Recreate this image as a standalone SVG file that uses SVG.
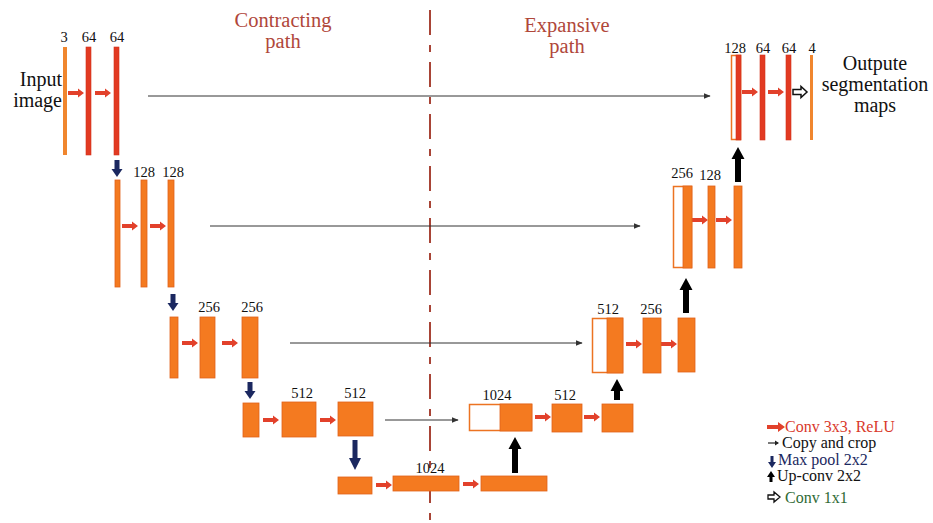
<svg xmlns="http://www.w3.org/2000/svg" xmlns:xlink="http://www.w3.org/1999/xlink" width="933" height="523" viewBox="0 0 933 523" font-family="'Liberation Serif','DejaVu Serif',serif">
<style>
text{font-family:"Liberation Serif","DejaVu Serif",serif;}
.num{font-size:14.5px;fill:#111;text-anchor:middle;}
.title{font-size:20.5px;fill:#b0473a;text-anchor:middle;}
.big{font-size:20px;fill:#111;}
.leg{font-size:16px;}
.bar{fill:#f47a20;stroke:#e2621a;stroke-width:0.8;}
.red{fill:#e23a22;stroke:#d4321c;stroke-width:0.6;}
.thin{fill:#f0862e;}
.hollow{fill:#fff;stroke:#ec7322;stroke-width:1.5;}
.copy{stroke:#333;stroke-width:1;fill:none;marker-end:url(#ah);}
.pool{fill:#1b2860;}
.up{fill:#000;}
</style>
<defs>
<marker id="ah" viewBox="0 0 10 10" refX="9" refY="5" markerWidth="7" markerHeight="7" orient="auto" markerUnits="userSpaceOnUse">
<path d="M0,1 L10,5 L0,9 Z" fill="#333"/>
</marker>
<path id="conv" d="M0,-2 H10 V-4.5 L16,0 L10,4.5 V2 H0 Z" fill="#e2412b"/>
<path id="pool" d="M-2.5,0 H2.5 V9 H5.5 L0,17 L-5.5,9 H-2.5 Z" class="pool"/>
<path id="c11" d="M0,-2.5 H8 V-5.5 L14,0 L8,5.5 V2.5 H0 Z" fill="#fff" stroke="#111" stroke-width="1.5"/>
</defs>
<rect width="933" height="523" fill="#fff"/>

<g id="titles">
<text class="title" x="283" y="27">Contracting</text>
<text class="title" x="283" y="48">path</text>
<text class="title" x="567" y="32">Expansive</text>
<text class="title" x="567" y="53">path</text>
</g>

<line x1="430" y1="10" x2="430" y2="523" stroke="#a84436" stroke-width="2" stroke-dasharray="25 10 7 10"/>

<g id="connectors">
<line class="copy" x1="148" y1="96" x2="710" y2="96"/>
<line class="copy" x1="210" y1="226" x2="640" y2="226"/>
<line class="copy" x1="290" y1="343" x2="582" y2="343"/>
<line class="copy" x1="385" y1="420" x2="458" y2="420"/>
<use href="#conv" x="68" y="93"/>
<use href="#conv" x="95" y="93"/>
<use href="#conv" x="122" y="226"/>
<use href="#conv" x="150" y="226"/>
<use href="#conv" x="182" y="343"/>
<use href="#conv" x="222" y="343"/>
<use href="#conv" x="263" y="420"/>
<use href="#conv" x="320" y="420"/>
<use href="#conv" x="376" y="485"/>
<use href="#conv" x="463" y="484"/>
<use href="#conv" x="535" y="417"/>
<use href="#conv" x="584" y="417"/>
<use href="#conv" x="626" y="344"/>
<use href="#conv" x="661" y="344"/>
<use href="#conv" x="692" y="220"/>
<use href="#conv" x="716" y="220"/>
<use href="#conv" x="742" y="92"/>
<use href="#conv" x="768" y="92"/>
<use href="#c11" x="793" y="92"/>
<use href="#pool" x="117" y="160"/>
<use href="#pool" x="173" y="294"/>
<use href="#pool" x="250" y="382"/>
<path class="pool" d="M352.5,440 H357.5 V458 H361 L355,470 L349,458 H352.5 Z"/>
<path class="up" d="M512,473 V449 H508.5 L515,437 L521.5,449 H518 V473 Z"/>
<path class="up" d="M614,400 V391 H610.5 L617,379 L623.5,391 H620 V400 Z"/>
<path class="up" d="M683,313 V290 H679.5 L686,278 L692.5,290 H689 V313 Z"/>
<path class="up" d="M735,182 V159 H731.5 L738,147 L744.5,159 H741 V182 Z"/>
</g>

<g id="input">
<text class="big" x="62" y="86" text-anchor="end">Input</text>
<text class="big" x="62" y="107" text-anchor="end">image</text>
</g>
<g id="enc1">
<rect class="thin" x="63" y="47" width="4" height="108"/>
<rect class="red" x="86" y="47" width="5" height="108"/>
<rect class="red" x="114" y="47" width="5" height="108"/>
<text class="num" x="64" y="42">3</text>
<text class="num" x="89" y="42">64</text>
<text class="num" x="117" y="42">64</text>
</g>
<g id="enc2">
<rect class="bar" x="115" y="180" width="5" height="107"/>
<rect class="bar" x="141" y="180" width="6" height="107"/>
<rect class="bar" x="168" y="180" width="6" height="107"/>
<text class="num" x="144" y="177">128</text>
<text class="num" x="173" y="177">128</text>
</g>
<g id="enc3">
<rect class="bar" x="170" y="317" width="8" height="61"/>
<rect class="bar" x="200" y="317" width="15" height="61"/>
<rect class="bar" x="242" y="317" width="16" height="61"/>
<text class="num" x="209" y="312">256</text>
<text class="num" x="252" y="312">256</text>
</g>
<g id="enc4">
<rect class="bar" x="243" y="403" width="16" height="34"/>
<rect class="bar" x="282" y="402" width="34" height="35"/>
<rect class="bar" x="338" y="402" width="35" height="34"/>
<text class="num" x="302" y="398">512</text>
<text class="num" x="355" y="398">512</text>
</g>
<g id="bottom">
<rect class="bar" x="338" y="477" width="34" height="17"/>
<rect class="bar" x="393" y="476" width="66" height="15"/>
<rect class="bar" x="481" y="476" width="66" height="15"/>
<text class="num" x="430" y="473">1024</text>
</g>
<g id="dec4">
<rect class="hollow" x="469.5" y="404.5" width="62" height="26"/>
<rect class="bar" x="500" y="404" width="32" height="27"/>
<rect class="bar" x="552" y="404" width="30" height="28"/>
<rect class="bar" x="602" y="404" width="31" height="28"/>
<text class="num" x="497" y="400">1024</text>
<text class="num" x="565" y="400">512</text>
</g>
<g id="dec3">
<rect class="hollow" x="592.5" y="318.5" width="30" height="54"/>
<rect class="bar" x="607" y="318" width="16" height="55"/>
<rect class="bar" x="643" y="318" width="18" height="55"/>
<rect class="bar" x="678" y="318" width="17" height="54"/>
<text class="num" x="608" y="314">512</text>
<text class="num" x="651" y="314">256</text>
</g>
<g id="dec2">
<rect class="hollow" x="673.5" y="186.5" width="18" height="81"/>
<rect class="bar" x="683" y="186" width="9" height="82"/>
<rect class="bar" x="708" y="186" width="7" height="82"/>
<rect class="bar" x="734" y="186" width="8" height="82"/>
<text class="num" x="682" y="178">256</text>
<text class="num" x="710" y="180">128</text>
</g>
<g id="dec1">
<rect class="hollow" x="731.5" y="55.5" width="9" height="84"/>
<rect class="red" x="736" y="55" width="5" height="85"/>
<rect class="red" x="760" y="55" width="5" height="85"/>
<rect class="red" x="786" y="55" width="5" height="85"/>
<rect class="thin" x="810" y="55" width="3" height="85"/>
<text class="num" x="735" y="53">128</text>
<text class="num" x="763" y="53">64</text>
<text class="num" x="789" y="53">64</text>
<text class="num" x="812" y="53">4</text>
</g>
<g id="output">
<text class="big" x="875" y="70" text-anchor="middle" font-size="20.5">Outpute</text>
<text class="big" x="875" y="91" text-anchor="middle" font-size="20.5">segmentation</text>
<text class="big" x="875" y="112" text-anchor="middle" font-size="20.5">maps</text>
</g>

<g id="legend">
<path d="M767,425 H778 V422 L785,427 L778,432 V429 H767 Z" fill="#e2412b"/>
<text class="leg" x="785" y="432" fill="#d9392b">Conv 3x3, ReLU</text>
<line x1="768" y1="443" x2="778" y2="443" stroke="#222" stroke-width="1.2"/>
<path d="M775,440.5 L779,443 L775,445.5 Z" fill="#222"/>
<text class="leg" x="782" y="448" fill="#111">Copy and crop</text>
<path d="M770.5,456 H773.5 V462 H776 L772,468 L768,462 H770.5 Z" fill="#1b2860"/>
<text class="leg" x="778" y="465" fill="#1b2860">Max pool 2x2</text>
<path d="M769.5,482 V477 H767 L771,471 L775,477 H772.5 V482 Z" fill="#000"/>
<text class="leg" x="777" y="481" fill="#111">Up-conv 2x2</text>
<path d="M768,495 H774 V492 L780,497 L774,502 V499 H768 Z" fill="#fff" stroke="#111" stroke-width="1.3"/>
<text class="leg" x="785" y="503" fill="#2f6b35">Conv 1x1</text>
</g>
</svg>
